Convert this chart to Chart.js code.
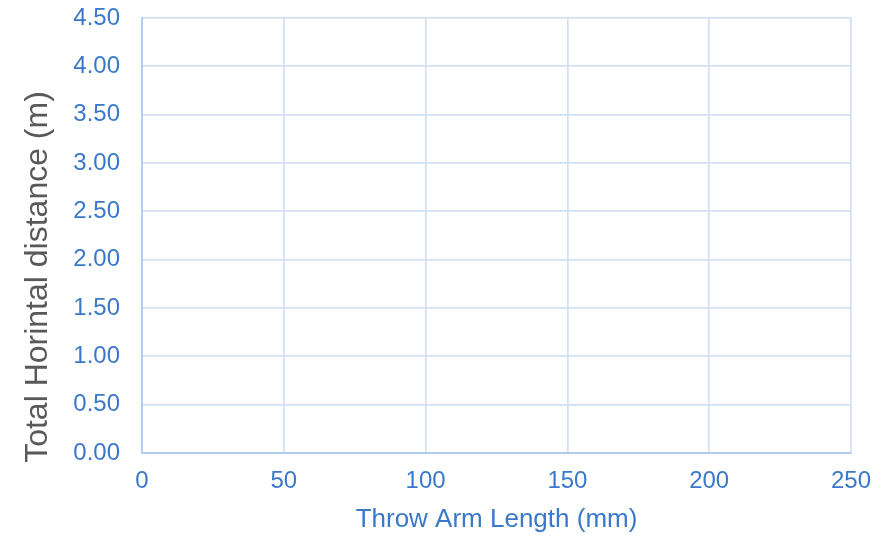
<!DOCTYPE html>
<html>
<head>
<meta charset="utf-8">
<script src="https://cdn.jsdelivr.net/npm/chart.js@4"></script>
<style>
html,body{margin:0;padding:0;background:#fff;}
#wrap{width:884px;height:542px;}
</style>
</head>
<body>
<div id="wrap"><canvas id="c" width="884" height="542"></canvas></div>
<script>
// Data (the reference chart has no plotted points)
const seriesX = [];
const seriesY = [];
const xMin = 0, xMax = 250, xStep = 50;
const yMin = 0, yMax = 4.5, yStep = 0.5;
const xTitle = 'Throw Arm Length (mm)';
const yTitle = 'Total Horintal distance (m)';

const points = seriesX.map((x, i) => ({x: x, y: seriesY[i]}));
const blue = '#3A78C9';
const grey = '#595959';
const FONT = '"Liberation Sans", Arial, sans-serif';

const yTitlePlugin = {
  id: 'yTitle',
  afterDraw(chart) {
    const ctx = chart.ctx;
    ctx.save();
    ctx.translate(38, 277);
    ctx.rotate(-Math.PI / 2);
    ctx.font = '32px ' + FONT;
    ctx.fillStyle = grey;
    ctx.textAlign = 'center';
    ctx.textBaseline = 'middle';
    ctx.fillText(yTitle, 0, 0);
    ctx.restore();
  }
};

new Chart(document.getElementById('c'), {
  type: 'scatter',
  data: { datasets: [{ data: points, backgroundColor: blue }] },
  plugins: [yTitlePlugin],
  options: {
    responsive: false,
    animation: false,
    layout: { padding: { top: 18, right: 33, left: 0, bottom: 0 } },
    plugins: { legend: { display: false }, tooltip: { enabled: false } },
    scales: {
      x: {
        type: 'linear', min: xMin, max: xMax,
        ticks: { stepSize: xStep, color: blue, padding: 14,
                 font: { family: FONT, size: 24 } },
        grid: { color: '#D3E0F3', lineWidth: 1.75, drawTicks: false },
        border: { color: '#B4CDEE', width: 2 },
        title: { display: true, text: xTitle, color: blue, padding: { top: 4, bottom: 7 },
                 font: { family: FONT, size: 26 } },
        afterFit(s) { s.height = 89; s.paddingLeft = 0; s.paddingRight = 0; }
      },
      y: {
        type: 'linear', min: yMin, max: yMax,
        ticks: { stepSize: yStep, color: blue, padding: 22,
                 callback: v => Number(v).toFixed(2),
                 font: { family: FONT, size: 24 } },
        grid: { color: '#D3E0F3', lineWidth: 1.75, drawTicks: false },
        border: { color: '#B4CDEE', width: 2 },
        afterFit(s) { s.width = 142; s.paddingTop = 0; s.paddingBottom = 0; }
      }
    }
  }
});
</script>
</body>
</html>
